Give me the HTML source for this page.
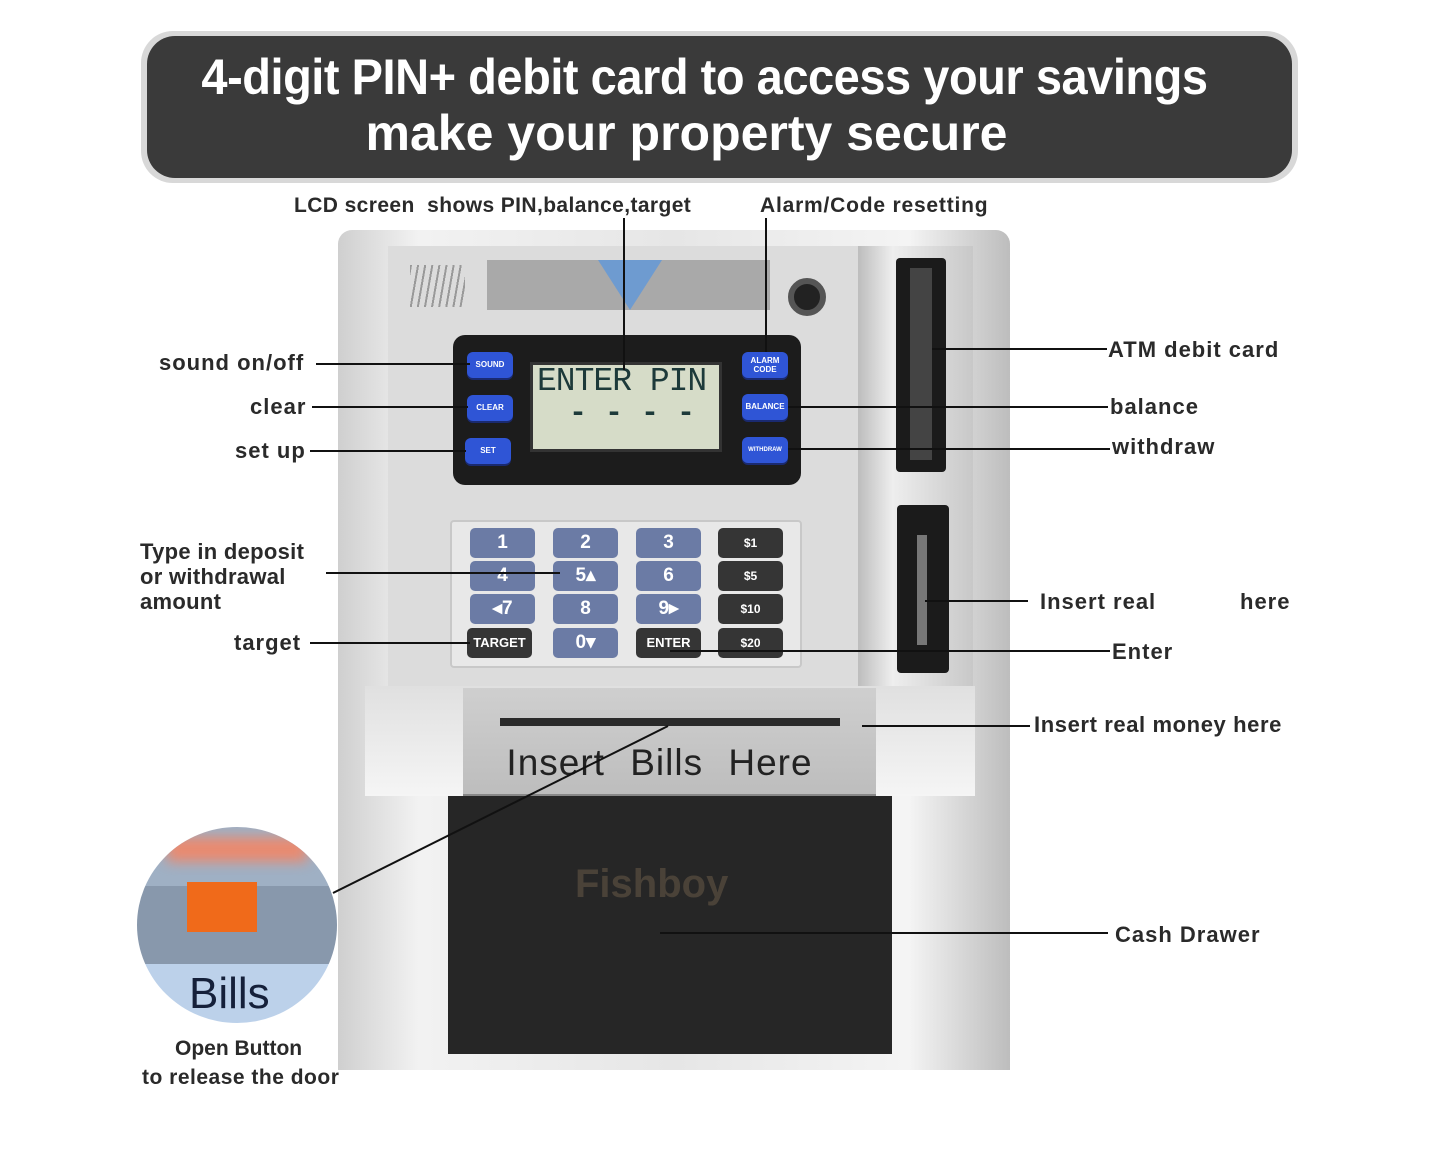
<!DOCTYPE html>
<html><head><meta charset="utf-8"><style>
*{margin:0;padding:0;box-sizing:border-box}
body{width:1440px;height:1166px;background:#fff;position:relative;overflow:hidden;font-family:"Liberation Sans",sans-serif;color:#222}
.a{position:absolute}
.lbl{position:absolute;font-size:22px;font-weight:bold;letter-spacing:1px;color:#2a2a2a;white-space:nowrap;line-height:1}
.bb{position:absolute;width:46px;height:26px;background:#2f55d6;border-radius:6px;color:#fff;font-size:8px;font-weight:bold;text-align:center;line-height:26px;box-shadow:0 2px 0 #1a2a70}
.k{position:absolute;width:65px;height:30px;background:#6b7ba5;border-radius:5px;color:#fff;font-size:19px;font-weight:bold;text-align:center;line-height:30px}
.kd{background:#353535;font-size:12px}
</style></head><body>
<!-- banner -->
<div class="a" style="left:141px;top:31px;width:1157px;height:152px;border-radius:32px;background:#d8d8d8"></div>
<div class="a" style="left:147px;top:36px;width:1145px;height:142px;border-radius:28px;background:#3a3a3a;color:#fff;font-weight:bold;text-align:center">
<div style="font-size:50px;line-height:50px;margin-top:16px;margin-left:-30px;letter-spacing:-0.5px;transform:scaleX(0.94)">4-digit PIN+ debit card to access your savings</div>
<div style="font-size:50px;line-height:50px;margin-top:6px;margin-left:-66px">make your property secure</div>
</div>
<!-- ATM body -->
<div class="a" style="left:338px;top:230px;width:672px;height:840px;background:linear-gradient(90deg,#cfcfcf,#f2f2f2 12%,#e6e6e6 50%,#f4f4f4 85%,#bdbdbd);border-radius:14px 14px 0 0"></div>
<div class="a" style="left:388px;top:246px;width:470px;height:440px;background:#dcdcdc"></div>
<div class="a" style="left:858px;top:246px;width:115px;height:440px;background:linear-gradient(90deg,#bdbdbd,#eeeeee 30%,#c8c8c8)"></div>
<div class="a" style="left:487px;top:260px;width:283px;height:50px;background:#a9a9a9"></div>
<div class="a" style="left:598px;top:260px;width:0;height:0;border-left:32px solid transparent;border-right:32px solid transparent;border-top:50px solid #6e9bd0"></div>
<div class="a" style="left:410px;top:265px;width:55px;height:42px;background:repeating-linear-gradient(100deg,#999 0 2px,transparent 2px 7px)"></div>
<div class="a" style="left:788px;top:278px;width:38px;height:38px;border-radius:50%;background:#222;border:6px solid #555"></div>
<div class="a" style="left:896px;top:258px;width:50px;height:214px;background:#1b1b1b;border-radius:4px"></div>
<div class="a" style="left:910px;top:268px;width:22px;height:192px;background:#444"></div>
<div class="a" style="left:897px;top:505px;width:52px;height:168px;background:#1b1b1b;border-radius:4px"></div>
<div class="a" style="left:917px;top:535px;width:10px;height:110px;background:#777"></div>
<!-- control panel -->
<div class="a" style="left:453px;top:335px;width:348px;height:150px;background:#1c1c1c;border-radius:12px"></div>
<div class="a" style="left:530px;top:362px;width:192px;height:90px;background:#d6dcc8;border:3px solid #333;font-family:'Liberation Mono',monospace;color:#1d3a3a">
<div style="font-size:33px;line-height:34px;margin-left:4px;letter-spacing:-1px">ENTER PIN</div>
<div style="font-size:30px;line-height:30px;margin-left:36px;font-weight:bold">- - - -</div></div>
<div class="bb" style="left:467px;top:352px">SOUND</div>
<div class="bb" style="left:467px;top:395px">CLEAR</div>
<div class="bb" style="left:465px;top:438px">SET</div>
<div class="bb" style="left:742px;top:352px;line-height:9px;padding-top:4px">ALARM<br>CODE</div>
<div class="bb" style="left:742px;top:394px">BALANCE</div>
<div class="bb" style="left:742px;top:437px;font-size:6px">WITHDRAW</div>
<!-- keypad -->
<div class="a" style="left:450px;top:520px;width:352px;height:148px;background:#e8e8e8;border:2px solid #c8c8c8;border-radius:4px"></div>
<div class="k" style="left:470px;top:528px">1</div><div class="k" style="left:553px;top:528px">2</div><div class="k" style="left:636px;top:528px">3</div><div class="k kd" style="left:718px;top:528px">$1</div>
<div class="k" style="left:470px;top:561px">4</div><div class="k" style="left:553px;top:561px">5▴</div><div class="k" style="left:636px;top:561px">6</div><div class="k kd" style="left:718px;top:561px">$5</div>
<div class="k" style="left:470px;top:594px">◂7</div><div class="k" style="left:553px;top:594px">8</div><div class="k" style="left:636px;top:594px">9▸</div><div class="k kd" style="left:718px;top:594px">$10</div>
<div class="k kd" style="left:467px;top:628px;font-size:13px">TARGET</div><div class="k" style="left:553px;top:628px">0▾</div><div class="k kd" style="left:636px;top:628px;font-size:13px">ENTER</div><div class="k kd" style="left:718px;top:628px">$20</div>
<!-- bill section -->
<div class="a" style="left:365px;top:686px;width:610px;height:110px;background:linear-gradient(#e0e0e0,#f5f5f5)"></div>
<div class="a" style="left:463px;top:688px;width:413px;height:108px;background:linear-gradient(#cfcfcf,#bdbdbd);border-bottom:2px solid #888"></div>
<div class="a" style="left:500px;top:718px;width:340px;height:8px;background:#2a2a2a"></div>
<div class="a" style="left:453px;top:742px;width:413px;text-align:center;font-size:37px;color:#222;letter-spacing:1px;word-spacing:14px">Insert Bills Here</div>
<div class="a" style="left:448px;top:796px;width:444px;height:258px;background:#262626"></div>
<div class="a" style="left:575px;top:862px;font-size:40px;font-weight:bold;color:#4a4238">Fishboy</div>
<!-- bills circle -->
<div class="a" style="left:137px;top:827px;width:200px;height:196px;border-radius:50%;overflow:hidden;background:linear-gradient(#9fb0c4 0 30%,#8898ac 30% 70%,#bcd1ea 70%)">
<div class="a" style="left:50px;top:55px;width:70px;height:50px;background:#f06a1a"></div>
<div class="a" style="left:30px;top:10px;width:140px;height:25px;background:#e98a70;filter:blur(6px)"></div>
<div class="a" style="left:52px;top:142px;font-size:44px;color:#15203a">Bills</div></div>
<div class="lbl" style="left:175px;top:1038px;font-size:21px;letter-spacing:0">Open Button</div>
<div class="lbl" style="left:142px;top:1067px;font-size:21px;letter-spacing:0.5px">to release the door</div>
<!-- labels -->
<div class="lbl" style="left:294px;top:195px;font-size:21px;letter-spacing:0.4px">LCD screen &nbsp;shows PIN,balance,target</div>
<div class="lbl" style="left:760px;top:195px;font-size:21px;letter-spacing:0.8px">Alarm/Code resetting</div>
<div class="lbl" style="left:159px;top:352px">sound on/off</div>
<div class="lbl" style="left:250px;top:396px">clear</div>
<div class="lbl" style="left:235px;top:440px">set up</div>
<div class="lbl" style="left:140px;top:539px;line-height:25px;letter-spacing:0.3px">Type in deposit<br>or withdrawal<br>amount</div>
<div class="lbl" style="left:234px;top:632px">target</div>
<div class="lbl" style="left:1108px;top:339px">ATM debit card</div>
<div class="lbl" style="left:1110px;top:396px">balance</div>
<div class="lbl" style="left:1112px;top:436px">withdraw</div>
<div class="lbl" style="left:1040px;top:591px">Insert real</div>
<div class="lbl" style="left:1240px;top:591px">here</div>
<div class="lbl" style="left:1112px;top:641px">Enter</div>
<div class="lbl" style="left:1034px;top:714px;letter-spacing:0.6px">Insert real money here</div>
<div class="lbl" style="left:1115px;top:924px">Cash Drawer</div>
<svg class="a" style="left:0;top:0" width="1440" height="1166">
<g stroke="#111" stroke-width="2" fill="none">
<line x1="624" y1="218" x2="624" y2="370"/><line x1="766" y1="218" x2="766" y2="352"/>
<line x1="316" y1="364" x2="470" y2="364"/><line x1="312" y1="407" x2="468" y2="407"/><line x1="310" y1="451" x2="466" y2="451"/>
<line x1="326" y1="573" x2="560" y2="573"/><line x1="310" y1="643" x2="470" y2="643"/>
<line x1="932" y1="349" x2="1107" y2="349"/><line x1="788" y1="407" x2="1108" y2="407"/><line x1="788" y1="449" x2="1110" y2="449"/>
<line x1="925" y1="601" x2="1028" y2="601"/><line x1="670" y1="651" x2="1110" y2="651"/>
<line x1="862" y1="726" x2="1030" y2="726"/><line x1="660" y1="933" x2="1108" y2="933"/>
<line x1="333" y1="893" x2="668" y2="726"/>
</g></svg>
</body></html>
